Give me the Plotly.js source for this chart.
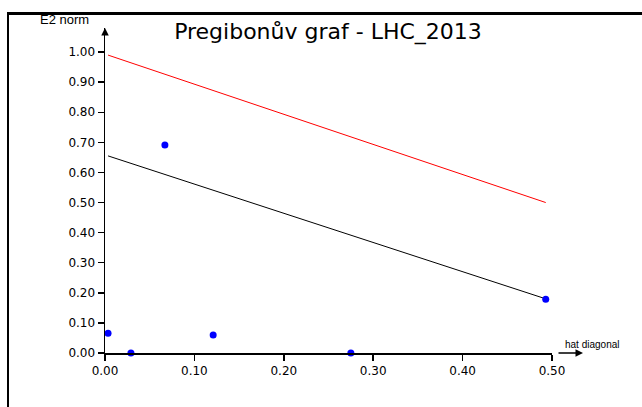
<!DOCTYPE html>
<html>
<head>
<meta charset="utf-8">
<script src="https://cdn.plot.ly/plotly-3.0.1.min.js"></script>
<style>
html,body{margin:0;padding:0;background:#fff;}
#wrap{position:relative;width:642px;height:407px;}
#chart{width:642px;height:407px;}
#frame{position:absolute;left:7px;top:12px;width:640px;height:400px;border-left:2px solid #000;border-top:3px solid #000;pointer-events:none;z-index:10;}
</style>
</head>
<body>
<div id="wrap"><div id="chart"></div><div id="frame"></div></div>
<script>
// Data
const leverage = [0.0034, 0.029, 0.067, 0.121, 0.275, 0.493];
const e2norm   = [0.066, 0.0, 0.691, 0.060, 0.0, 0.179];
const redLineX = [0.0034, 0.493];
const redLineY = [0.99, 0.50];
const blackLineX = [0.0034, 0.493];
const blackLineY = [0.655, 0.18];
const titleText = "Pregibonův graf - LHC_2013";
const yLabel = "E2 norm";
const xLabel = "hat diagonal";

const traces = [
  {x: redLineX, y: redLineY, mode: 'lines', line: {color: 'rgb(255,0,0)', width: 1}, hoverinfo: 'skip'},
  {x: blackLineX, y: blackLineY, mode: 'lines', line: {color: 'black', width: 1}, hoverinfo: 'skip'},
  {x: leverage, y: e2norm, mode: 'markers', marker: {color: 'rgb(0,0,255)', size: 7}, cliponaxis: false}
];

const tickFont = {family: 'DejaVu Sans, sans-serif', size: 12, color: 'black'};

const layout = {
  width: 642, height: 407,
  margin: {l: 105, r: 90, t: 28, b: 54, pad: 0},
  paper_bgcolor: 'white', plot_bgcolor: 'white',
  showlegend: false,
  title: {text: titleText, x: 328/642, xanchor: 'center', y: 1 - 31/407, yanchor: 'middle',
          font: {family: 'DejaVu Sans, sans-serif', size: 22, color: 'black'}},
  xaxis: {range: [0, 0.5], dtick: 0.1, tick0: 0, tickformat: '.2f', showgrid: false, zeroline: false,
          showline: true, linecolor: 'black', linewidth: 1.5, ticks: 'outside', ticklen: 6, tickwidth: 1.5,
          tickcolor: 'black', tickfont: tickFont, fixedrange: true},
  yaxis: {range: [0, 1.08], dtick: 0.1, tick0: 0, tickformat: '.2f', showgrid: false, zeroline: false,
          showline: true, linecolor: 'black', linewidth: 1.5, ticks: 'outside', ticklen: 6, tickwidth: 1.5,
          tickcolor: 'black', tickfont: tickFont, fixedrange: true},
  annotations: [
    {xref: 'paper', yref: 'paper', x: (64-105)/447, y: (353-20)/325, text: yLabel, showarrow: false,
     font: {family: 'Liberation Sans, Arial, sans-serif', size: 13, color: 'black'}, xanchor: 'center', yanchor: 'middle'},
    {xref: 'paper', yref: 'paper', x: (592-105)/447, y: (353-344)/325, text: xLabel, showarrow: false,
     font: {family: 'Liberation Sans, Arial, sans-serif', size: 10, color: 'black'}, xanchor: 'center', yanchor: 'middle'},
    {xref: 'paper', yref: 'paper', x: (583-105)/447, y: 0, ax: -26, ay: 0, text: '', showarrow: true,
     arrowhead: 2, arrowsize: 1, arrowwidth: 1.5, arrowcolor: 'black'},
    {xref: 'paper', yref: 'paper', x: 0, y: 1, ax: 0, ay: 8, text: '', showarrow: true,
     arrowhead: 2, arrowsize: 1, arrowwidth: 1.5, arrowcolor: 'black'}
  ]
};

Plotly.newPlot('chart', traces, layout, {displayModeBar: false, staticPlot: true});
</script>
</body>
</html>
